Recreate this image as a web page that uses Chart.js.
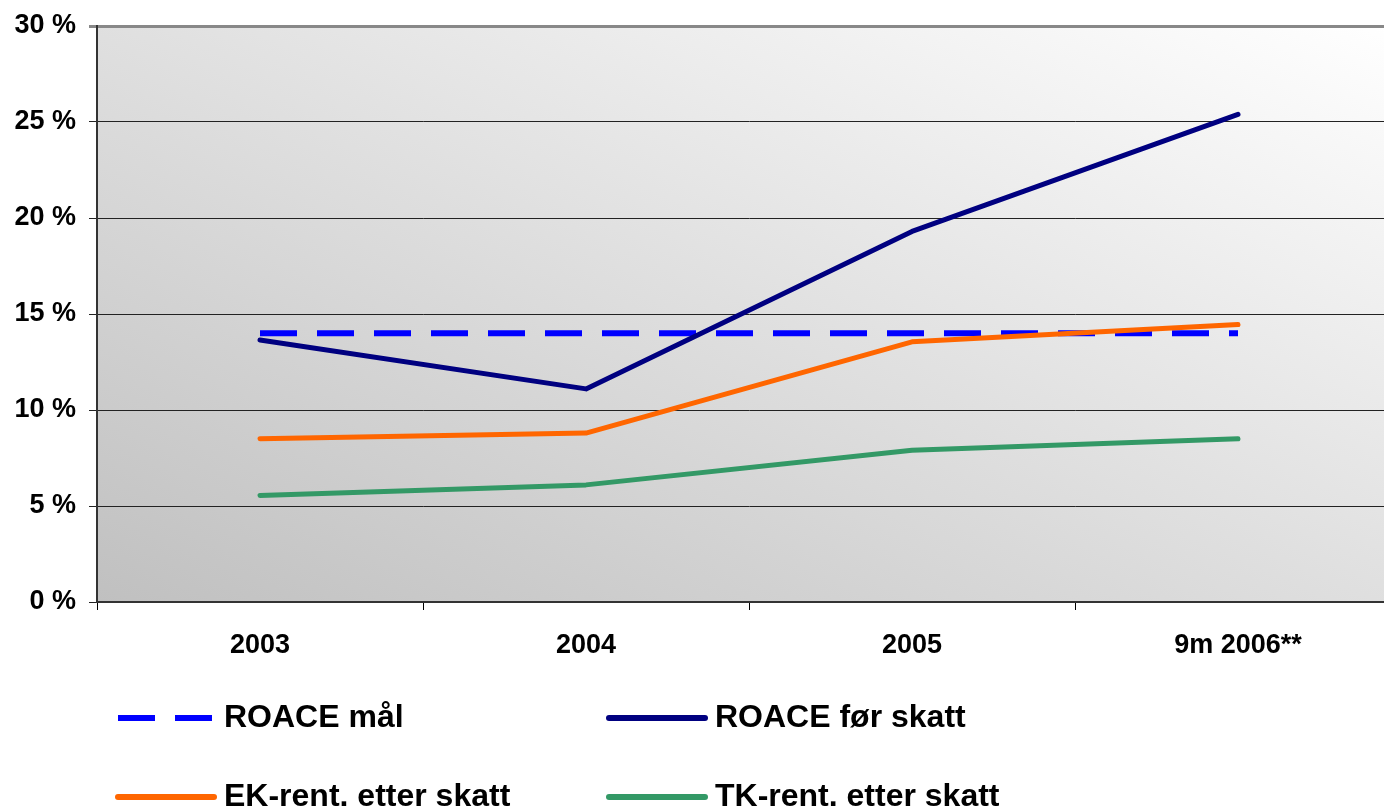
<!DOCTYPE html>
<html>
<head>
<meta charset="utf-8">
<script src="https://cdn.jsdelivr.net/npm/chart.js@4/dist/chart.umd.min.js"></script>
<style>
  html, body { margin: 0; padding: 0; background: #fff; overflow: hidden; }
  #wrap { width: 1410px; height: 809px; }
</style>
</head>
<body>
<div id="wrap"><canvas id="chart" width="1410" height="809"></canvas></div>
<script>
// categories + series (values in %)
const years = ['2003', '2004', '2005', '9m 2006**']
const roaceTarget = [14, 14, 14, 14]
const roaceBeforeTax = [13.65, 11.1, 19.3, 25.4]
const ekAfterTax = [8.5, 8.8, 13.55, 14.45]
const tkAfterTax = [5.55, 6.1, 7.9, 8.5]
const yTicks = [0, 5, 10, 15, 20, 25, 30]

const FONT = 'Arial, "Liberation Sans", sans-serif'

// diagonal grey -> white fill behind the plot
const plotBackground = {
    id: 'plotBackground',
    beforeDraw(chart) {
        const { ctx, chartArea: a } = chart
        const w = a.right - a.left, h = a.bottom - a.top
        const len = Math.hypot(w, h)
        const ux = h / len, uy = -w / len
        const dist = w * ux - h * uy
        const g = ctx.createLinearGradient(a.left, a.bottom, a.left + ux * dist, a.bottom + uy * dist)
        g.addColorStop(0, '#c0c0c0')
        g.addColorStop(1, '#ffffff')
        ctx.save()
        ctx.fillStyle = g
        ctx.fillRect(a.left, a.top, w, h)
        ctx.restore()
    }
}

// two-column legend under the axis, like the source sheet
const sheetLegend = {
    id: 'sheetLegend',
    afterDraw(chart) {
        const { ctx } = chart
        const slots = [
            { x: 118, y: 718 }, { x: 609, y: 718 },
            { x: 118, y: 797 }, { x: 609, y: 797 }
        ]
        chart.data.datasets.forEach((ds, i) => {
            const s = slots[i]
            ctx.save()
            ctx.strokeStyle = ds.borderColor
            ctx.lineWidth = 6
            ctx.lineCap = ds.borderDash ? 'butt' : 'round'
            ctx.setLineDash(ds.borderDash || [])
            ctx.beginPath()
            ctx.moveTo(s.x, s.y)
            ctx.lineTo(s.x + 96, s.y)
            ctx.stroke()
            ctx.setLineDash([])
            ctx.fillStyle = '#000'
            ctx.font = 'bold 32px ' + FONT
            ctx.textBaseline = 'middle'
            ctx.fillText(ds.label, s.x + 106, s.y)
            ctx.restore()
        })
    }
}

const line = (label, data, color, extra) => Object.assign({
    label, data,
    borderColor: color,
    backgroundColor: color,
    borderWidth: 5,
    pointRadius: 0,
    pointHoverRadius: 0,
    tension: 0,
    borderCapStyle: 'round',
    borderJoinStyle: 'round',
    fill: false
}, extra)

new Chart(document.getElementById('chart'), {
    type: 'line',
    data: {
        labels: years,
        datasets: [
            line('ROACE mål', roaceTarget, '#0000ff', { borderDash: [37, 20], borderCapStyle: 'butt', borderWidth: 6, order: 4 }),
            line('ROACE før skatt', roaceBeforeTax, '#000080', { order: 1 }),
            line('EK-rent. etter skatt', ekAfterTax, '#ff6600', { order: 2 }),
            line('TK-rent. etter skatt', tkAfterTax, '#339966', { order: 3 })
        ]
    },
    options: {
        responsive: false,
        animation: false,
        devicePixelRatio: 1,
        layout: { padding: { top: 26, right: 9, bottom: 0, left: 0 } },
        plugins: {
            legend: { display: false },
            tooltip: { enabled: false }
        },
        scales: {
            x: {
                offset: true,
                grid: {
                    offset: true,
                    drawOnChartArea: false,
                    drawTicks: true,
                    tickLength: 8,
                    color: '#000',
                    lineWidth: 1
                },
                border: { display: true, color: '#333', width: 2 },
                ticks: {
                    color: '#000',
                    padding: 19,
                    maxRotation: 0,
                    font: { family: FONT, size: 27, weight: 'bold' }
                },
                afterFit(scale) {
                    scale.height = 207
                    scale.paddingLeft = 0
                    scale.paddingRight = 0
                }
            },
            y: {
                min: 0,
                max: 30,
                afterBuildTicks(scale) { scale.ticks = yTicks.map(v => ({ value: v })) },
                grid: {
                    drawTicks: true,
                    tickLength: 8,
                    color: ctx => ctx.tick && ctx.tick.value === 30 ? '#888' : '#222',
                    lineWidth: ctx => ctx.tick && ctx.tick.value === 30 ? 3 : 1
                },
                border: { display: true, color: '#333', width: 2 },
                ticks: {
                    color: '#000',
                    padding: 13,
                    callback: v => v + ' %',
                    font: { family: FONT, size: 27, weight: 'bold' }
                },
                afterFit(scale) {
                    scale.width = 97
                    scale.paddingTop = 0
                    scale.paddingBottom = 0
                }
            }
        }
    },
    plugins: [plotBackground, sheetLegend]
})
</script>
</body>
</html>
